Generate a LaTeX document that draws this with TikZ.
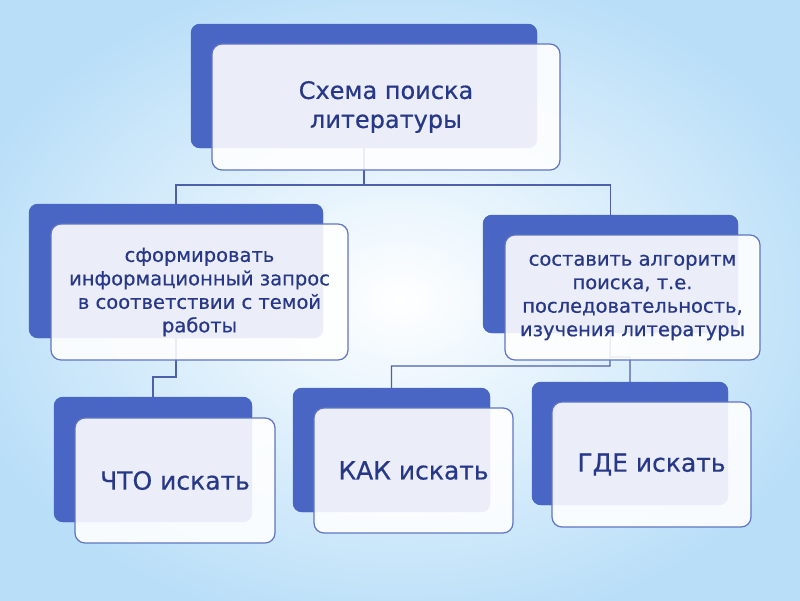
\documentclass[tikz,border=0pt]{standalone}
\usepackage{fontspec}
\setmainfont{DejaVu Sans}[FakeBold=0.6]
\definecolor{bgblue}{RGB}{184,222,248}
\definecolor{backblue}{RGB}{74,102,196}
\definecolor{frameblue}{RGB}{96,116,196}
\definecolor{linkblue}{RGB}{78,96,172}
\definecolor{txtblue}{RGB}{40,56,136}
\tikzset{
  backbox/.style={fill=backblue, rounded corners=9pt, inner sep=0pt, draw=none},
  frontbox/.style={fill=white, fill opacity=0.89, text opacity=1, draw=frameblue, line width=1.2pt,
     rounded corners=10pt, inner sep=0pt, align=center, text=txtblue},
  link/.style={draw=linkblue, line width=1.2pt},
  bigtxt/.style={font=\fontsize{24}{29}\selectfont},
  midtxt/.style={font=\fontsize{19.5}{23.5}\selectfont},
  lowtxt/.style={font=\fontsize{25}{30}\selectfont}
}
\begin{document}
\begin{tikzpicture}[x=1pt,y=-1pt]
\useasboundingbox (0,0) rectangle (800,600);
\shade[inner color=white, middle color=white!55!bgblue, outer color=bgblue] (-60,-40) rectangle (860,640);
% back boxes
\node[backbox, minimum width=346pt, minimum height=124pt] (tb) at (364,86) {};
\node[backbox, minimum width=294pt, minimum height=134pt] (lb) at (176,271) {};
\node[backbox, minimum width=255pt, minimum height=118pt] (rb) at (610.5,274) {};
\node[backbox, minimum width=198pt, minimum height=125pt] (wb) at (153,459.5) {};
\node[backbox, minimum width=197pt, minimum height=124pt] (hb) at (391.5,450) {};
\node[backbox, minimum width=196pt, minimum height=123pt] (gb) at (630,443.5) {};
% connectors
\coordinate (j1) at (364,185);
\coordinate (j2) at (176,377);
\coordinate (j3) at (610,366);
\coordinate (j4) at (610,357);
\draw[link] (tb.south) -- (j1) -| (lb.north);
\draw[link] (j1) -| (rb.north);
\draw[link] (lb.south) -- (j2) -| (wb.north);
\draw[link] (rb.south) -- (j3) -| (hb.north);
\draw[link] (rb.south) -- (j4) -| (gb.north);
% back boxes drawn again over the connector ends
\fill[backblue, rounded corners=9pt] (tb.south west) rectangle (tb.north east);
\fill[backblue, rounded corners=9pt] (lb.south west) rectangle (lb.north east);
\fill[backblue, rounded corners=9pt] (rb.south west) rectangle (rb.north east);
\fill[backblue, rounded corners=9pt] (wb.south west) rectangle (wb.north east);
\fill[backblue, rounded corners=9pt] (hb.south west) rectangle (hb.north east);
\fill[backblue, rounded corners=9pt] (gb.south west) rectangle (gb.north east);
% front boxes
\node[frontbox, bigtxt, minimum width=348pt, minimum height=126pt] (tf) at (386,107) {Схема поиска\\литературы};
\node[frontbox, midtxt, minimum width=297pt, minimum height=136pt] (lf) at (199.5,292) {сформировать\\информационный запрос\\в соответствии с темой\\работы};
\node[frontbox, midtxt, minimum width=255pt, minimum height=125pt] (rf) at (632.5,297.5) {составить алгоритм\\поиска, т.е.\\последовательность,\\изучения литературы};
\node[frontbox, lowtxt, minimum width=200pt, minimum height=125pt] (wf) at (175,480.5) {ЧТО искать};
\node[frontbox, lowtxt, minimum width=199pt, minimum height=125pt] (hf) at (413.5,470.5) {КАК искать};
\node[frontbox, lowtxt, minimum width=199pt, minimum height=125pt] (gf) at (651.5,464.5) {ГДЕ искать};
\end{tikzpicture}
\end{document}
